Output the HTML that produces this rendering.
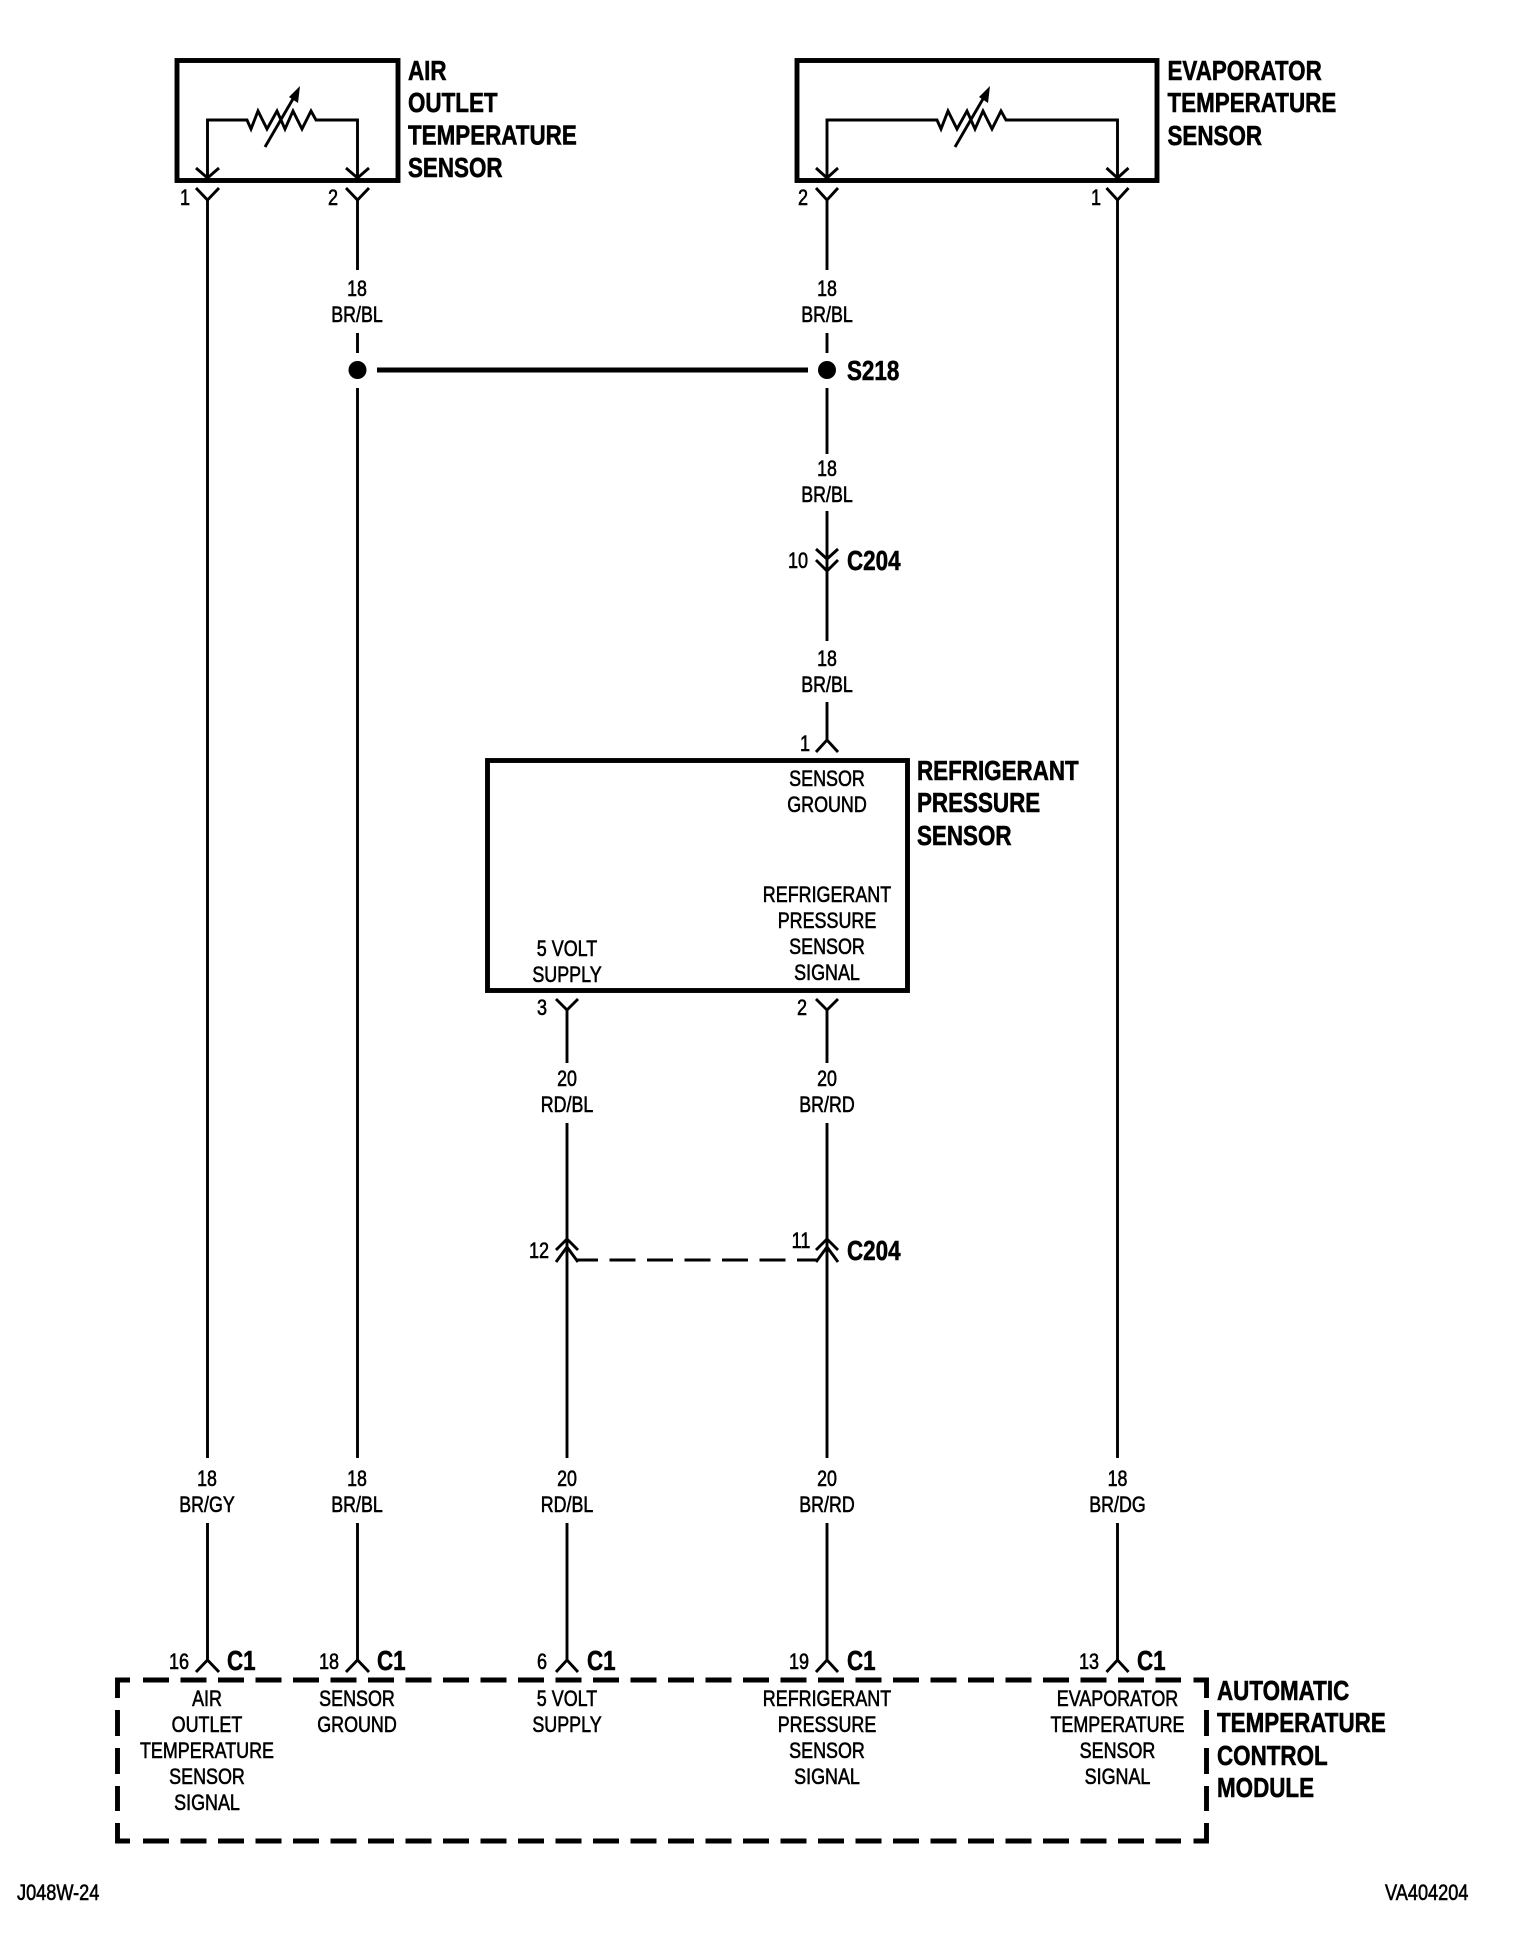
<!DOCTYPE html>
<html><head><meta charset="utf-8"><title>Wiring diagram</title>
<style>
html,body{margin:0;padding:0;background:#fff;width:1520px;height:1938px;overflow:hidden}
svg{display:block}
text{font-family:"Liberation Sans",sans-serif;fill:#000}
.r{font-size:22px;stroke:#000;stroke-width:.6px;text-anchor:middle}
.l{font-size:22px;stroke:#000;stroke-width:.6px}
.b{font-size:28px;font-weight:bold;stroke:#000;stroke-width:.6px}
.w{fill:none;stroke:#000;stroke-width:2.9}
.t{fill:none;stroke:#000;stroke-width:4.9}
</style></head><body>
<svg width="1520" height="1938" viewBox="0 0 1520 1938" xmlns="http://www.w3.org/2000/svg">
<rect width="1520" height="1938" fill="#fff"/>

<!-- boxes -->
<rect class="t" x="177" y="60.5" width="221" height="120"/>
<rect class="t" x="797" y="60.5" width="360" height="120"/>
<rect class="t" x="487.5" y="760.5" width="420" height="230"/>

<!-- inner sensor circuits -->
<path class="w" d="M207.5 178V120H247L251 129L258 111L267 129L277 111L285 129L293 111L302 129L311 111L316 120H357.5V178"/>
<path class="w" d="M196 168L207.5 178L219 168M346 168L357.5 178L369 168"/>
<path class="w" d="M265 147L297 92"/>
<polygon points="300,86 289,97 298,103"/>
<path class="w" d="M827 178V120H937L941 129L948 111L957 129L967 111L975 129L983 111L992 129L1001 111L1006 120H1117.5V178"/>
<path class="w" d="M816 168L827 178L838 168M1106.5 168L1117.5 178L1128.5 168"/>
<path class="w" d="M955 147L987 92"/>
<polygon points="990,86 979,97 988,103"/>

<!-- wires -->
<path class="w" d="M207.5 200V1458M207.5 1523V1660"/>
<path class="w" d="M357.5 200V270M357.5 333V353M357.5 388V1458M357.5 1523V1660"/>
<path class="w" d="M827 200V270M827 333V353M827 388V454M827 511V641M827 702V740"/>
<path class="w" d="M1117.5 200V1458M1117.5 1523V1660"/>
<path class="w" d="M567 1010V1063M567 1123V1458M567 1523V1660"/>
<path class="w" d="M827 1010V1063M827 1123V1458M827 1523V1660"/>

<!-- top connector Ys -->
<path class="w" d="M196 188L207.5 200L219 188M346 188L357.5 200L369 188M816 188L827 200L838 188M1106.5 188L1117.5 200L1128.5 188"/>
<!-- refrigerant sensor connectors -->
<path class="w" d="M816 752L827 740L838 752"/>
<path class="w" d="M556 999L567 1010L578 999M816 999L827 1010L838 999"/>
<!-- C204 upper -->
<path class="w" d="M816 549L827 559L838 549M816 560L827 571L838 560"/>
<!-- C204 lower -->
<path class="w" d="M556 1250L567 1239L578 1250M556 1262L567 1247L578 1262M816 1250L827 1239L838 1250M816 1262L827 1247L838 1262"/>
<path class="w" stroke-dasharray="26 11.5" stroke-dashoffset="5" d="M577 1260H817"/>
<!-- C1 connectors -->
<path class="w" d="M196 1672L207.5 1660L219 1672M346 1672L357.5 1660L369 1672M556 1672L567 1660L578 1672M816 1672L827 1660L838 1672M1106.5 1672L1117.5 1660L1128.5 1672"/>

<!-- splice -->
<path class="t" d="M377 370H808"/>
<circle cx="357.5" cy="370" r="9"/>
<circle cx="827" cy="370" r="9"/>

<!-- dashed module -->
<path class="t" stroke-dasharray="26 11.5" d="M143 1680H1181M143 1841H1181"/>
<path class="t" stroke-dasharray="26 12" d="M117.5 1710V1811M1206.5 1710V1811"/>
<path class="t" d="M117.5 1698V1680H130M1193.5 1680H1206.5V1698M117.5 1823V1841H130M1193.5 1841H1206.5V1823"/>

<g transform="translate(0 -1)">
<!-- bold labels -->
<text class="b" transform="translate(408 81) scale(.8 1)">AIR</text>
<text class="b" transform="translate(408 113) scale(.8 1)">OUTLET</text>
<text class="b" transform="translate(408 145.5) scale(.8 1)">TEMPERATURE</text>
<text class="b" transform="translate(408 178) scale(.8 1)">SENSOR</text>
<text class="b" transform="translate(1167.5 81) scale(.8 1)">EVAPORATOR</text>
<text class="b" transform="translate(1167.5 113) scale(.8 1)">TEMPERATURE</text>
<text class="b" transform="translate(1167.5 146) scale(.8 1)">SENSOR</text>
<text class="b" transform="translate(847 381) scale(.8 1)">S218</text>
<text class="b" transform="translate(847 571) scale(.8 1)">C204</text>
<text class="b" transform="translate(847 1261) scale(.8 1)">C204</text>
<text class="b" transform="translate(917 781) scale(.8 1)">REFRIGERANT</text>
<text class="b" transform="translate(917 813) scale(.8 1)">PRESSURE</text>
<text class="b" transform="translate(917 846) scale(.8 1)">SENSOR</text>
<text class="b" transform="translate(227 1671) scale(.8 1)">C1</text>
<text class="b" transform="translate(377 1671) scale(.8 1)">C1</text>
<text class="b" transform="translate(587 1671) scale(.8 1)">C1</text>
<text class="b" transform="translate(847 1671) scale(.8 1)">C1</text>
<text class="b" transform="translate(1137 1671) scale(.8 1)">C1</text>
<text class="b" transform="translate(1217 1701) scale(.8 1)">AUTOMATIC</text>
<text class="b" transform="translate(1217 1733) scale(.8 1)">TEMPERATURE</text>
<text class="b" transform="translate(1217 1766) scale(.8 1)">CONTROL</text>
<text class="b" transform="translate(1217 1798) scale(.8 1)">MODULE</text>

<!-- pin numbers -->
<text class="r" transform="translate(185 206) scale(.82 1)">1</text>
<text class="r" transform="translate(333 206) scale(.82 1)">2</text>
<text class="r" transform="translate(803 206) scale(.82 1)">2</text>
<text class="r" transform="translate(1096 206) scale(.82 1)">1</text>
<text class="r" transform="translate(798 569) scale(.82 1)">10</text>
<text class="r" transform="translate(805 752) scale(.82 1)">1</text>
<text class="r" transform="translate(542 1016) scale(.82 1)">3</text>
<text class="r" transform="translate(802 1016) scale(.82 1)">2</text>
<text class="r" transform="translate(539 1259) scale(.82 1)">12</text>
<text class="r" transform="translate(801 1249) scale(.82 1)">11</text>
<text class="r" transform="translate(179 1670) scale(.82 1)">16</text>
<text class="r" transform="translate(329 1670) scale(.82 1)">18</text>
<text class="r" transform="translate(542 1670) scale(.82 1)">6</text>
<text class="r" transform="translate(799 1670) scale(.82 1)">19</text>
<text class="r" transform="translate(1089 1670) scale(.82 1)">13</text>

<!-- wire labels -->
<text class="r" transform="translate(357 297) scale(.81 1)">18</text>
<text class="r" transform="translate(357 323) scale(.81 1)">BR/BL</text>
<text class="r" transform="translate(827 297) scale(.81 1)">18</text>
<text class="r" transform="translate(827 323) scale(.81 1)">BR/BL</text>
<text class="r" transform="translate(827 477) scale(.81 1)">18</text>
<text class="r" transform="translate(827 503) scale(.81 1)">BR/BL</text>
<text class="r" transform="translate(827 667) scale(.81 1)">18</text>
<text class="r" transform="translate(827 693) scale(.81 1)">BR/BL</text>
<text class="r" transform="translate(567 1087) scale(.81 1)">20</text>
<text class="r" transform="translate(567 1113) scale(.81 1)">RD/BL</text>
<text class="r" transform="translate(827 1087) scale(.81 1)">20</text>
<text class="r" transform="translate(827 1113) scale(.81 1)">BR/RD</text>
<text class="r" transform="translate(207 1487) scale(.81 1)">18</text>
<text class="r" transform="translate(207 1513) scale(.81 1)">BR/GY</text>
<text class="r" transform="translate(357 1487) scale(.81 1)">18</text>
<text class="r" transform="translate(357 1513) scale(.81 1)">BR/BL</text>
<text class="r" transform="translate(567 1487) scale(.81 1)">20</text>
<text class="r" transform="translate(567 1513) scale(.81 1)">RD/BL</text>
<text class="r" transform="translate(827 1487) scale(.81 1)">20</text>
<text class="r" transform="translate(827 1513) scale(.81 1)">BR/RD</text>
<text class="r" transform="translate(1117.5 1487) scale(.81 1)">18</text>
<text class="r" transform="translate(1117.5 1513) scale(.81 1)">BR/DG</text>

<!-- refrigerant sensor internals -->
<text class="r" transform="translate(827 787) scale(.815 1)">SENSOR</text>
<text class="r" transform="translate(827 813) scale(.815 1)">GROUND</text>
<text class="r" transform="translate(827 903) scale(.815 1)">REFRIGERANT</text>
<text class="r" transform="translate(827 929) scale(.815 1)">PRESSURE</text>
<text class="r" transform="translate(827 955) scale(.815 1)">SENSOR</text>
<text class="r" transform="translate(827 981) scale(.815 1)">SIGNAL</text>
<text class="r" transform="translate(567 957) scale(.815 1)">5 VOLT</text>
<text class="r" transform="translate(567 983) scale(.815 1)">SUPPLY</text>

<!-- module internals -->
<text class="r" transform="translate(207 1707) scale(.815 1)">AIR</text>
<text class="r" transform="translate(207 1733) scale(.815 1)">OUTLET</text>
<text class="r" transform="translate(207 1759) scale(.815 1)">TEMPERATURE</text>
<text class="r" transform="translate(207 1785) scale(.815 1)">SENSOR</text>
<text class="r" transform="translate(207 1811) scale(.815 1)">SIGNAL</text>
<text class="r" transform="translate(357 1707) scale(.815 1)">SENSOR</text>
<text class="r" transform="translate(357 1733) scale(.815 1)">GROUND</text>
<text class="r" transform="translate(567 1707) scale(.815 1)">5 VOLT</text>
<text class="r" transform="translate(567 1733) scale(.815 1)">SUPPLY</text>
<text class="r" transform="translate(827 1707) scale(.815 1)">REFRIGERANT</text>
<text class="r" transform="translate(827 1733) scale(.815 1)">PRESSURE</text>
<text class="r" transform="translate(827 1759) scale(.815 1)">SENSOR</text>
<text class="r" transform="translate(827 1785) scale(.815 1)">SIGNAL</text>
<text class="r" transform="translate(1117.5 1707) scale(.815 1)">EVAPORATOR</text>
<text class="r" transform="translate(1117.5 1733) scale(.815 1)">TEMPERATURE</text>
<text class="r" transform="translate(1117.5 1759) scale(.815 1)">SENSOR</text>
<text class="r" transform="translate(1117.5 1785) scale(.815 1)">SIGNAL</text>

<!-- footer -->
<text class="l" transform="translate(17 1901) scale(.825 1)">J048W-24</text>
<text class="l" transform="translate(1385 1901) scale(.825 1)">VA404204</text>
</g>
</svg>
</body></html>
